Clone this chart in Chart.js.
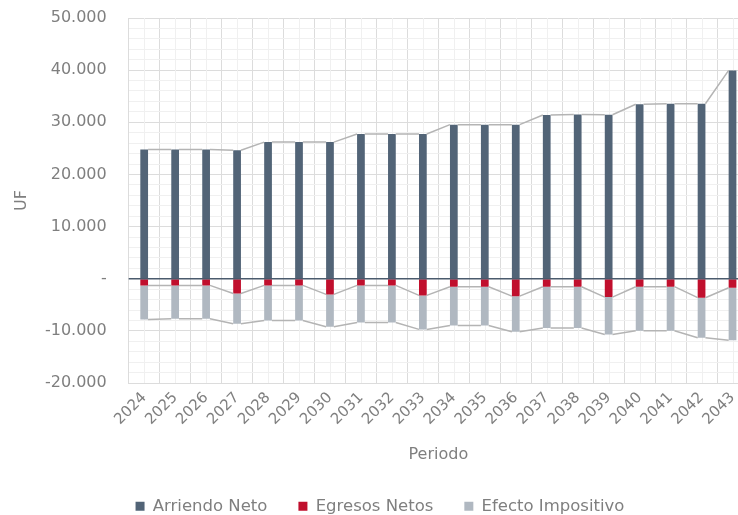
<!DOCTYPE html>
<html>
<head>
<meta charset="utf-8">
<script src="https://cdn.jsdelivr.net/npm/chart.js@4.4.1/dist/chart.umd.min.js"></script>
<style>
  html, body { margin: 0; padding: 0; background: #ffffff; overflow: hidden; }
  #wrap { width: 738px; height: 515px; overflow: hidden; position: relative; }
  canvas { display: block; }
</style>
</head>
<body>
<div id="wrap"><canvas id="chart" width="760" height="515" style="width:760px;height:515px"></canvas></div>
<script>
// Flujo anual (UF)
const periods = ['2024', '2025', '2026', '2027', '2028', '2029', '2030', '2031', '2032', '2033',
                 '2034', '2035', '2036', '2037', '2038', '2039', '2040', '2041', '2042', '2043'];
const arriendoNeto = [24800, 24800, 24800, 24650, 26200, 26200, 26200, 27750, 27750, 27750,
                      29550, 29550, 29550, 31400, 31500, 31450, 33450, 33550, 33550, 39950];
const egresosNetos = [-1280, -1280, -1280, -2820, -1280, -1280, -3010, -1280, -1280, -3200,
                      -1530, -1530, -3340, -1530, -1530, -3530, -1530, -1530, -3640, -1730];
const efectoImpositivo = [-6530, -6390, -6390, -5810, -6720, -6720, -6200, -7100, -7100, -6520,
                          -7430, -7430, -6820, -7940, -7940, -7150, -8440, -8440, -7680, -10050];

const yMin = -20000;
const yMax = 50000;
const yMinorStep = 2000;
const yMajorStep = 10000;

const textColor = '#7f7f7f';
const majorGrid = '#dcdcdc';
const minorGrid = '#f0f0f0';
const fontFamily = '"DejaVu Sans", Verdana, sans-serif';

function formatUF(v) {
  if (v === 0) return '-';
  const s = Math.abs(v).toString().replace(/\B(?=(\d{3})+(?!\d))/g, '.');
  return (v < 0 ? '-' : '') + s;
}

// Minor vertical grid at category centres, series lines between stacked bars, and the zero axis
const seriesLines = {
  id: 'seriesLines',
  beforeDatasetsDraw(chart) {
    const { ctx, chartArea } = chart;
    const x = chart.scales.x;
    ctx.save();
    ctx.strokeStyle = minorGrid;
    ctx.lineWidth = 1;
    periods.forEach((p, i) => {
      const px = Math.round(x.getPixelForValue(i)) + 0.5;
      ctx.beginPath();
      ctx.moveTo(px, chartArea.top);
      ctx.lineTo(px, chartArea.bottom);
      ctx.stroke();
    });
    ctx.restore();
  },
  afterDatasetsDraw(chart) {
    const { ctx, chartArea } = chart;
    ctx.save();
    ctx.strokeStyle = '#b4b4b4';
    ctx.lineWidth = 1.5;
    chart.data.datasets.forEach((ds, d) => {
      const bars = chart.getDatasetMeta(d).data;
      ctx.beginPath();
      for (let i = 0; i < bars.length - 1; i++) {
        const a = bars[i], b = bars[i + 1];
        ctx.moveTo(a.x + a.width / 2, a.y);
        ctx.lineTo(b.x - b.width / 2, b.y);
      }
      ctx.stroke();
    });
    const y0 = chart.scales.y.getPixelForValue(0);
    ctx.strokeStyle = '#4b5b6d';
    ctx.lineWidth = 1.5;
    ctx.beginPath();
    ctx.moveTo(chartArea.left, y0);
    ctx.lineTo(chartArea.right, y0);
    ctx.stroke();
    ctx.restore();
  }
};

new Chart(document.getElementById('chart'), {
  type: 'bar',
  data: {
    labels: periods,
    datasets: [
      { label: 'Arriendo Neto', data: arriendoNeto, backgroundColor: '#526477' },
      { label: 'Egresos Netos', data: egresosNetos, backgroundColor: '#c00f2d' },
      { label: 'Efecto Impositivo', data: efectoImpositivo, backgroundColor: '#b0b8c1' }
    ]
  },
  options: {
    responsive: false,
    animation: false,
    devicePixelRatio: 1,
    layout: { padding: { top: 18, left: 12, right: 12, bottom: 0 } },
    datasets: { bar: { categoryPercentage: 1, barPercentage: 0.25 } },
    plugins: {
      tooltip: { enabled: false },
      legend: {
        position: 'bottom',
        maxHeight: 48,
        labels: {
          boxWidth: 9,
          boxHeight: 9,
          padding: 31,
          color: textColor,
          font: { family: fontFamily, size: 16.5 }
        }
      }
    },
    scales: {
      x: {
        stacked: true,
        offset: true,
        grid: { offset: true, color: majorGrid, drawTicks: false },
        border: { color: majorGrid },
        ticks: {
          autoSkip: false,
          minRotation: 45,
          maxRotation: 45,
          padding: 6,
          color: textColor,
          font: { family: fontFamily, size: 15 }
        },
        title: {
          display: true,
          text: 'Periodo',
          color: textColor,
          font: { family: fontFamily, size: 16 },
          padding: { top: 4, bottom: 3 }
        },
        afterFit(scale) { scale.height = 84; }
      },
      y: {
        stacked: true,
        min: yMin,
        max: yMax,
        grid: {
          drawTicks: true,
          tickLength: 22,
          tickColor: 'rgba(0,0,0,0)',
          color: (c) => (c.tick && c.tick.value % yMajorStep === 0) ? majorGrid : minorGrid
        },
        border: { color: majorGrid },
        ticks: {
          stepSize: yMinorStep,
          autoSkip: false,
          padding: 0,
          color: textColor,
          font: { family: fontFamily, size: 16 },
          callback: (v) => (v % yMajorStep === 0) ? formatUF(v) : ''
        },
        title: {
          display: true,
          text: 'UF',
          color: textColor,
          font: { family: fontFamily, size: 16 },
          padding: { top: 0, bottom: 0 }
        },
        afterFit(scale) { scale.width = 116.7; }
      }
    }
  },
  plugins: [seriesLines]
});
</script>
</body>
</html>
